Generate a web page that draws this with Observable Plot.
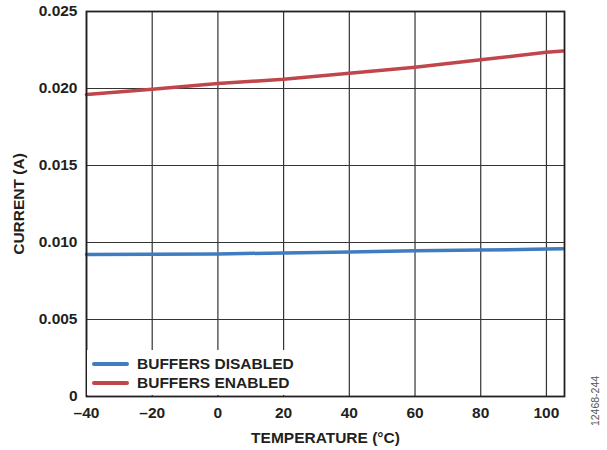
<!DOCTYPE html>
<html><head><meta charset="utf-8">
<script src="https://cdn.jsdelivr.net/npm/d3@7"></script>
<script src="https://cdn.jsdelivr.net/npm/@observablehq/plot@0.6"></script>
<style>
body{margin:0;background:#fff;}
#wrap{position:relative;width:607px;height:450px;font-family:"Liberation Sans",Arial,sans-serif;color:#231f20;}
#legend{position:absolute;left:87px;top:350px;width:222px;height:45px;background:#fff;}
.row{position:absolute;left:5px;height:18px;display:flex;align-items:center;font-size:15.5px;font-weight:bold;white-space:nowrap;}
.sw{width:37px;height:4px;border-radius:2px;margin-right:8px;}
#code{position:absolute;left:595px;top:401px;transform:translate(-50%,-50%) rotate(-90deg);font-size:10.5px;color:#555;white-space:nowrap;}
</style></head><body><div id="wrap"></div>
<script>
const temps = [-40, -20, 0, 20, 40, 60, 80, 100, 105];
const disabled = [0.00922, 0.00923, 0.00926, 0.00932, 0.00938, 0.00946, 0.00951, 0.00957, 0.00959];
const enabled = [0.01961, 0.01995, 0.02032, 0.02060, 0.02099, 0.02138, 0.02186, 0.02236, 0.02244];
const xTicks = [-40, -20, 0, 20, 40, 60, 80, 100];
const yTicks = [0, 0.005, 0.010, 0.015, 0.020, 0.025];
const seriesNames = ["BUFFERS DISABLED", "BUFFERS ENABLED"];
const seriesColors = ["#3f7cc0", "#c1464b"];

const data = [];
temps.forEach((t, i) => {
  data.push({t, v: disabled[i], s: seriesNames[0]});
  data.push({t, v: enabled[i], s: seriesNames[1]});
});

const chart = Plot.plot({
  width: 607, height: 450,
  marginLeft: 86, marginRight: 43, marginTop: 11, marginBottom: 54,
  style: {fontFamily: '"Liberation Sans", Arial, sans-serif', fontSize: "15.5px", fontWeight: "bold", color: "#231f20", background: "#fff"},
  x: {domain: [-40, 105.5], ticks: xTicks, tickSize: 0, tickPadding: 10,
      tickFormat: d => d < 0 ? "\u2013" + Math.abs(d) : String(d),
      label: "TEMPERATURE (°C)", labelAnchor: "center", labelOffset: 46, labelArrow: "none"},
  y: {domain: [0, 0.025], ticks: yTicks, tickSize: 0, tickPadding: 9,
      tickFormat: d => d === 0 ? "0" : d.toFixed(3),
      label: "CURRENT (A)", labelAnchor: "center", labelOffset: 74, labelArrow: "none"},
  color: {domain: seriesNames, range: seriesColors},
  marks: [
    Plot.gridX(xTicks, {stroke: "#333", strokeOpacity: 1, strokeWidth: 1.2}),
    Plot.gridY(yTicks, {stroke: "#333", strokeOpacity: 1, strokeWidth: 1.2}),
    Plot.line(data, {x: "t", y: "v", z: "s", stroke: "s", strokeWidth: 3.5}),
    Plot.frame({stroke: "#231f20", strokeWidth: 1.8})
  ]
});
const wrap = document.getElementById("wrap");
wrap.appendChild(chart);

const legend = document.createElement("div");
legend.id = "legend";
seriesNames.forEach((n, i) => {
  const r = document.createElement("div");
  r.className = "row";
  r.style.top = (5 + i * 19) + "px";
  r.innerHTML = `<span class="sw" style="background:${seriesColors[i]}"></span><span>${n}</span>`;
  legend.appendChild(r);
});
wrap.appendChild(legend);

const code = document.createElement("div");
code.id = "code";
code.textContent = "12468-244";
wrap.appendChild(code);
</script></body></html>
